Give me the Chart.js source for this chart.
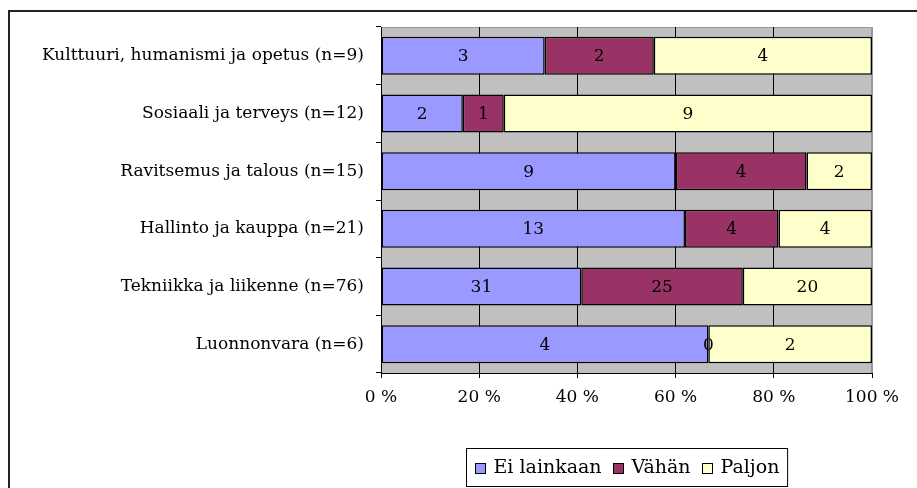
<!DOCTYPE html>
<html>
<head>
<meta charset="utf-8">
<script src="https://cdn.jsdelivr.net/npm/chart.js@4/dist/chart.umd.min.js"></script>
<style>
  body { margin: 0; background: #fff; }
</style>
</head>
<body>
<canvas id="chart" width="917" height="488"></canvas>
<script>
// koulutusalat ja vastausten jakauma
const categories = [
    'Kulttuuri, humanismi ja opetus (n=9)',
    'Sosiaali ja terveys (n=12)',
    'Ravitsemus ja talous (n=15)',
    'Hallinto ja kauppa (n=21)',
    'Tekniikka ja liikenne (n=76)',
    'Luonnonvara (n=6)'
];
const seriesNames = ['Ei lainkaan', 'Vähän', 'Paljon'];
const eiLainkaan = [3, 2, 9, 13, 31, 4];
const vahan = [2, 1, 4, 4, 25, 0];
const paljon = [4, 9, 2, 4, 20, 2];
const xTicks = [0, 20, 40, 60, 80, 100];

const colors = ['#9999FF', '#993366', '#FFFFCC'];
const FONT = '"DejaVu Serif", serif';
const FONT_SIZE = 17;
const LEGEND_SIZE = 19;

const counts = [eiLainkaan, vahan, paljon];
const totals = categories.map((c, i) => eiLainkaan[i] + vahan[i] + paljon[i]);
const toPct = (arr) => arr.map((v, i) => v / totals[i] * 100);

// harmaa tausta + kehys
const frame = {
    id: 'frame',
    beforeDraw(chart) {
        const { ctx, chartArea: a } = chart;
        ctx.save();
        ctx.fillStyle = '#C0C0C0';
        ctx.fillRect(a.left, a.top, a.right - a.left, a.bottom - a.top);
        ctx.strokeStyle = '#999';
        ctx.lineWidth = 1;
        ctx.beginPath();
        ctx.moveTo(a.left, a.top + 0.5);
        ctx.lineTo(a.right - 0.5, a.top + 0.5);
        ctx.lineTo(a.right - 0.5, a.bottom);
        ctx.stroke();
        // ulkokehys
        ctx.strokeStyle = '#222';
        ctx.lineWidth = 2;
        ctx.beginPath();
        ctx.moveTo(9, chart.height);
        ctx.lineTo(9, 11);
        ctx.lineTo(chart.width, 11);
        ctx.stroke();
        ctx.restore();
    }
};

// arvot palkkien sisään
const valueLabels = {
    id: 'valueLabels',
    afterDatasetsDraw(chart) {
        const { ctx } = chart;
        ctx.save();
        ctx.font = FONT_SIZE + 'px ' + FONT;
        ctx.fillStyle = '#000';
        ctx.textAlign = 'center';
        ctx.textBaseline = 'middle';
        chart.data.datasets.forEach((ds, di) => {
            chart.getDatasetMeta(di).data.forEach((el, i) => {
                const x = (el.x + el.base) / 2;
                ctx.fillText(String(counts[di][i]), x, el.y + 1);
            });
        });
        ctx.restore();
    }
};

// selite kehyksen kanssa
const boxLegend = {
    id: 'boxLegend',
    afterDraw(chart) {
        const { ctx, chartArea: a } = chart;
        ctx.save();
        ctx.font = LEGEND_SIZE + 'px ' + FONT;
        const box = 10, gapText = 8, gapItem = 11, padL = 8, padR = 11;
        const widths = seriesNames.map(n => ctx.measureText(n).width);
        let total = padL + padR;
        widths.forEach((w, i) => { total += box + gapText + w + (i < widths.length - 1 ? gapItem : 0); });
        const cx = (a.left + a.right) / 2;
        const left = Math.round(cx - total / 2) + 0.5;
        const top = 448.5, h = 38;
        ctx.strokeStyle = '#000';
        ctx.lineWidth = 1;
        ctx.strokeRect(left, top, total, h);
        const midY = top + h / 2;
        let x = Math.round(left + padL) + 0.5;
        seriesNames.forEach((n, i) => {
            const by = Math.round(midY - box / 2) + 0.5;
            ctx.fillStyle = colors[i];
            ctx.fillRect(x, by, box, box);
            ctx.strokeRect(x, by, box, box);
            ctx.fillStyle = '#000';
            ctx.textBaseline = 'middle';
            ctx.fillText(n, x + box + gapText, midY + 1);
            x = Math.round(x + box + gapText + widths[i] + gapItem) + 0.5;
        });
        ctx.restore();
    }
};

Chart.defaults.font.family = FONT;
Chart.defaults.font.size = FONT_SIZE;
Chart.defaults.color = '#000';

const ctx = document.getElementById('chart').getContext('2d');
new Chart(ctx, {
    type: 'bar',
    data: {
        labels: categories,
        datasets: seriesNames.map((name, i) => ({
            label: name,
            data: toPct(counts[i]),
            backgroundColor: colors[i],
            borderColor: '#000',
            borderWidth: 1.5,
            borderSkipped: false,
            categoryPercentage: 1,
            barPercentage: 0.66
        }))
    },
    options: {
        indexAxis: 'y',
        responsive: false,
        animation: false,
        layout: { padding: { left: 0, right: 45, top: 27, bottom: 0 } },
        plugins: {
            legend: { display: false },
            tooltip: { enabled: false }
        },
        scales: {
            x: {
                stacked: true,
                min: 0,
                max: 100,
                afterBuildTicks: (s) => { s.ticks = xTicks.map(v => ({ value: v })); },
                afterFit: (s) => { s.height = 488 - 373; },
                ticks: { callback: (v) => v + ' %', padding: 9, maxRotation: 0 },
                grid: {
                    color: (c) => c.tick && c.tick.value === 100 ? '#999' : '#000',
                    tickColor: '#000',
                    tickLength: 5,
                    lineWidth: 1
                },
                border: { color: '#000', width: 1 }
            },
            y: {
                stacked: true,
                afterFit: (s) => { s.width = 381; },
                ticks: { padding: 12 },
                grid: {
                    drawOnChartArea: false,
                    offset: true,
                    color: '#000',
                    tickLength: 5
                },
                border: { color: '#000', width: 1 }
            }
        }
    },
    plugins: [frame, valueLabels, boxLegend]
});
</script>
</body>
</html>
